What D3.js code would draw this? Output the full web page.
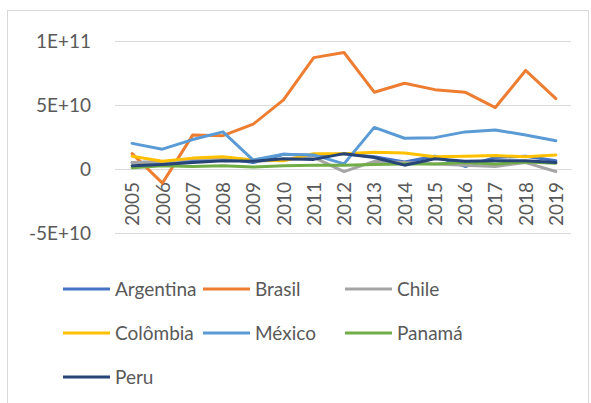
<!DOCTYPE html>
<html>
<head>
<meta charset="utf-8">
<script src="https://cdn.jsdelivr.net/npm/d3@7"></script>
<style>
  html, body { margin: 0; padding: 0; background: #fff; }
  svg { display: block; }
  text { font-family: Lato, "Open Sans", sans-serif; fill: #595959; }
</style>
</head>
<body>
<svg id="chart" width="591" height="403"></svg>
<script>
// Years on the category axis
const years = ["2005","2006","2007","2008","2009","2010","2011","2012","2013","2014","2015","2016","2017","2018","2019"];

// Country series (US$)
const argentina = [5.0e9, 5.5e9, 6.5e9, 8.5e9, 5.0e9, 1.15e10, 1.05e10, 1.2e10, 9.5e9, 5.5e9, 1.0e10, 2.0e9, 9.0e9, 1.0e10, 6.5e9];
const brasil    = [1.2e10, -1.1e10, 2.65e10, 2.6e10, 3.5e10, 5.4e10, 8.7e10, 9.1e10, 6.0e10, 6.7e10, 6.2e10, 6.0e10, 4.8e10, 7.7e10, 5.5e10];
const chile     = [5.0e9, 5.5e9, 8.0e9, 8.0e9, 6.0e9, 7.0e9, 9.0e9, -2.0e9, 6.0e9, 5.0e9, 4.0e9, 3.0e9, 2.0e9, 5.0e9, -2.0e9];
const colombia  = [1.0e10, 6.0e9, 8.5e9, 9.5e9, 7.0e9, 6.5e9, 1.2e10, 1.2e10, 1.3e10, 1.25e10, 9.5e9, 1.0e10, 1.05e10, 9.5e9, 1.1e10];
const mexico    = [2.0e10, 1.55e10, 2.3e10, 2.9e10, 7.0e9, 1.15e10, 1.1e10, 4.0e9, 3.25e10, 2.4e10, 2.45e10, 2.9e10, 3.05e10, 2.65e10, 2.2e10];
const panama    = [1.0e9, 2.5e9, 2.0e9, 2.5e9, 1.5e9, 2.5e9, 3.0e9, 3.0e9, 3.5e9, 4.0e9, 4.0e9, 5.0e9, 4.0e9, 5.5e9, 4.5e9];
const peru      = [2.5e9, 3.5e9, 5.0e9, 6.5e9, 6.0e9, 8.0e9, 7.5e9, 1.2e10, 9.0e9, 3.0e9, 8.0e9, 6.0e9, 6.5e9, 6.5e9, 5.0e9];

const seriesNames = ["Argentina", "Brasil", "Chile", "Colômbia", "México", "Panamá", "Peru"];
const seriesValues = [argentina, brasil, chile, colombia, mexico, panama, peru];
const seriesColors = ["#4472C4", "#ED7D31", "#A5A5A5", "#FFC000", "#5B9BD5", "#70AD47", "#264478"];

// Value axis ticks
const yTicks = [-5e10, 0, 5e10, 1e11];
const yTickLabels = ["-5E+10", "0", "5E+10", "1E+11"];

const svg = d3.select("#chart");

// Chart frame
svg.append("rect")
  .attr("x", 7.5).attr("y", 10.5)
  .attr("width", 581).attr("height", 400)
  .attr("fill", "#fff").attr("stroke", "#d9d9d9").attr("stroke-width", 1);

const x = d3.scalePoint().domain(years).range([117, 571]).padding(0.5);
const y = d3.scaleLinear().domain([-5e10, 1e11]).range([233, 41]);

// Horizontal gridlines
svg.append("g")
  .selectAll("line")
  .data(yTicks)
  .join("line")
  .attr("x1", 115).attr("x2", 571)
  .attr("y1", d => Math.round(y(d)) + 0.5)
  .attr("y2", d => Math.round(y(d)) + 0.5)
  .attr("stroke", "#d9d9d9").attr("stroke-width", 1);

// Value axis labels
const yAxis = d3.axisLeft(y)
  .tickValues(yTicks)
  .tickFormat((d, i) => yTickLabels[i])
  .tickSize(0)
  .tickPadding(0);
const yg = svg.append("g").attr("transform", "translate(91,0)").call(yAxis);
yg.select(".domain").remove();
yg.selectAll("text")
  .attr("font-size", 19)
  .attr("font-family", "Lato, sans-serif")
  .attr("fill", "#595959")
  .attr("dy", "0.35em");

// Category axis along the zero line, labels rotated
const xAxis = d3.axisBottom(x).tickSize(0).tickPadding(0);
const xg = svg.append("g").attr("transform", `translate(0,${y(0)})`).call(xAxis);
xg.select(".domain").attr("stroke", "#d9d9d9");
xg.selectAll("text")
  .attr("font-size", 19)
  .attr("font-family", "Lato, sans-serif")
  .attr("fill", "#595959")
  .attr("text-anchor", "end")
  .attr("transform", "rotate(-90)")
  .attr("x", -13)
  .attr("y", 0)
  .attr("dy", "0.35em");

// Series lines
const line = d3.line()
  .x((d, i) => x(years[i]))
  .y(d => y(d));

svg.append("g")
  .selectAll("path")
  .data(seriesValues)
  .join("path")
  .attr("d", line)
  .attr("fill", "none")
  .attr("stroke", (d, i) => seriesColors[i])
  .attr("stroke-width", 3)
  .attr("stroke-linejoin", "round")
  .attr("stroke-linecap", "round");

// Legend
const legendCols = [63, 203, 345];
const legendRows = [289, 333, 377];
const lg = svg.append("g")
  .selectAll("g")
  .data(seriesNames)
  .join("g")
  .attr("transform", (d, i) => `translate(${legendCols[i % 3]},${legendRows[Math.floor(i / 3)]})`);
lg.append("line")
  .attr("x1", 0).attr("x2", 47)
  .attr("y1", 0).attr("y2", 0)
  .attr("stroke", (d, i) => seriesColors[i])
  .attr("stroke-width", 3);
lg.append("text")
  .attr("x", 52)
  .attr("y", 0)
  .attr("dy", "0.35em")
  .attr("font-size", 19)
  .text(d => d);
</script>
</body>
</html>
